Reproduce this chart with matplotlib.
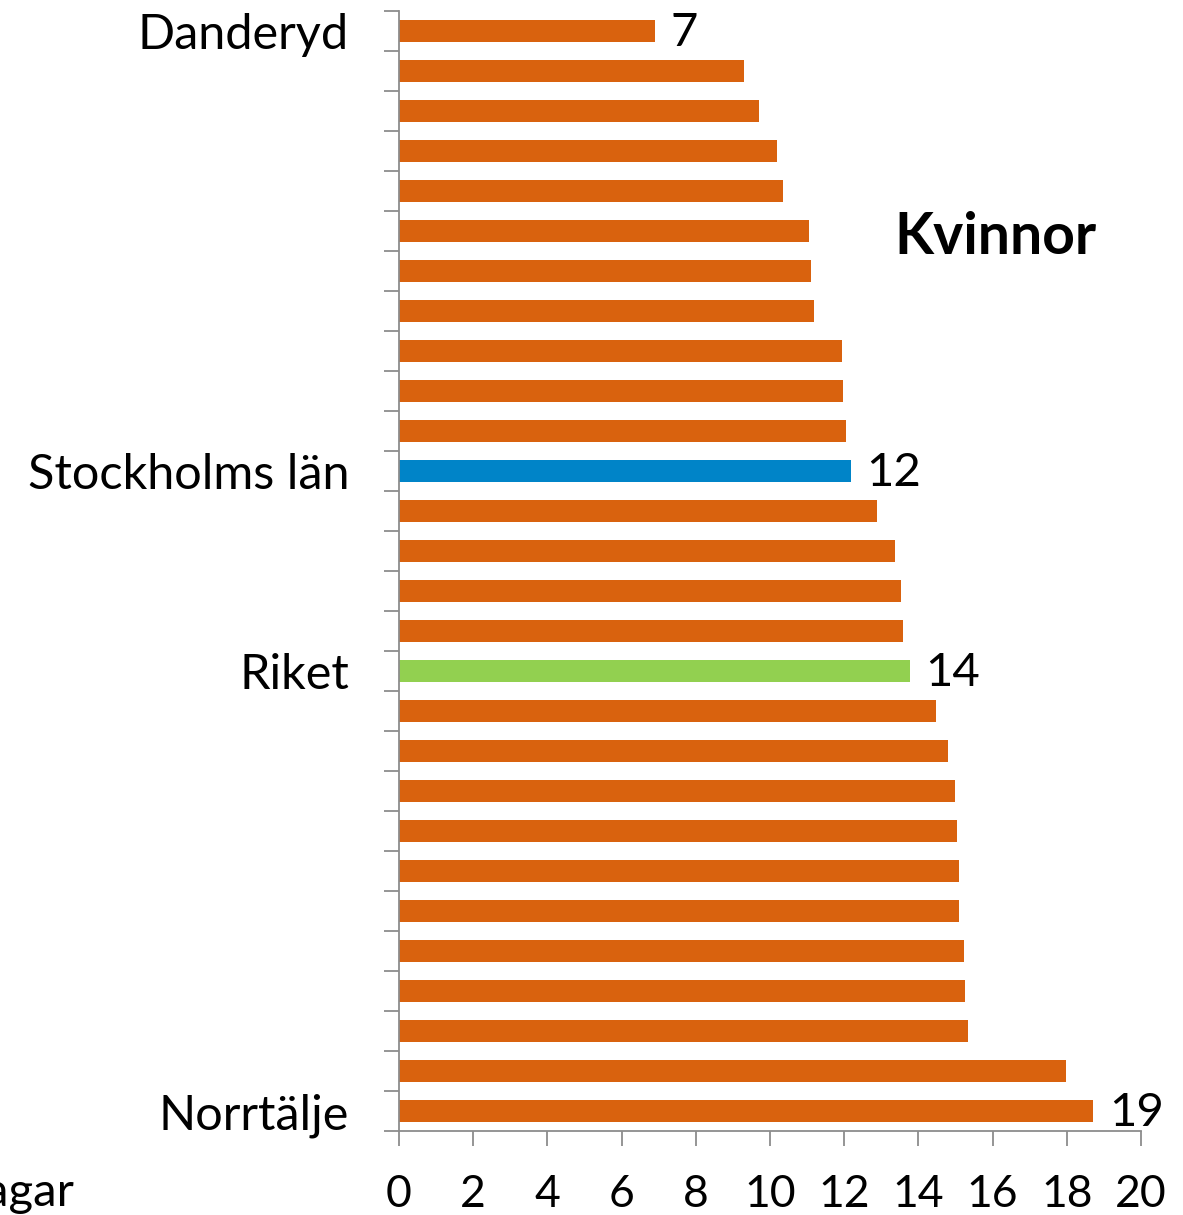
import numpy as np
import matplotlib.pyplot as plt

# data (days), top to bottom
labels = ['Danderyd', '', '', '', '', '', '', '', '', '', '',
          'Stockholms län', '', '', '', '', 'Riket',
          '', '', '', '', '', '', '', '', '', '', 'Norrtälje']
values = [6.90, 9.30, 9.70, 10.19, 10.35, 11.05, 11.10, 11.19, 11.94, 11.97, 12.05,
          12.18, 12.88, 13.37, 13.53, 13.58, 13.77,
          14.47, 14.80, 14.99, 15.04, 15.09, 15.09, 15.23, 15.26, 15.34, 17.98, 18.71]
value_labels = {0: '7', 11: '12', 16: '14', 27: '19'}
highlight = {'Stockholms län': '#0084C8', 'Riket': '#92D050'}
orange = '#D9620E'

plt.rcParams['font.family'] = ['Lato', 'DejaVu Sans']

fig = plt.figure(figsize=(11.83, 12.15), dpi=100)
ax = fig.add_axes([399 / 1183, 84 / 1215, 742 / 1183, 1120 / 1215])

y = np.arange(len(values))
colors = [highlight.get(l, orange) for l in labels]
ax.barh(y, values, height=0.55, color=colors)

for i, txt in value_labels.items():
    ax.text(values[i] + 0.42, y[i] + 0.05, txt, va='center', ha='left', fontsize=34)

ax.set_ylim(len(values) - 0.5, -0.5)
ax.set_xlim(0, 20)
ax.set_xticks(np.arange(0, 21, 2))
ax.set_yticks(y)
ax.set_yticklabels(labels, fontsize=35)
ax.set_yticks(np.arange(-0.5, len(values)), minor=True)
ax.tick_params(axis='y', which='major', length=0, pad=36)
ax.tick_params(axis='y', which='minor', length=11, width=1.3, color='#8c8c8c')
ax.tick_params(axis='x', length=11, width=1.3, color='#8c8c8c', labelsize=32, pad=20)

for side in ['top', 'right']:
    ax.spines[side].set_visible(False)
for side in ['left', 'bottom']:
    ax.spines[side].set_color('#8c8c8c')
    ax.spines[side].set_linewidth(1.3)

ax.text(0.9407, 0.798, 'Kvinnor', transform=ax.transAxes, ha='right', va='center',
        fontsize=41, fontweight='bold')
fig.text(75 / 1183, (1215 - 1193) / 1215, 'Dagar', ha='right', va='center', fontsize=34)

fig.savefig('out.png', dpi=100)
